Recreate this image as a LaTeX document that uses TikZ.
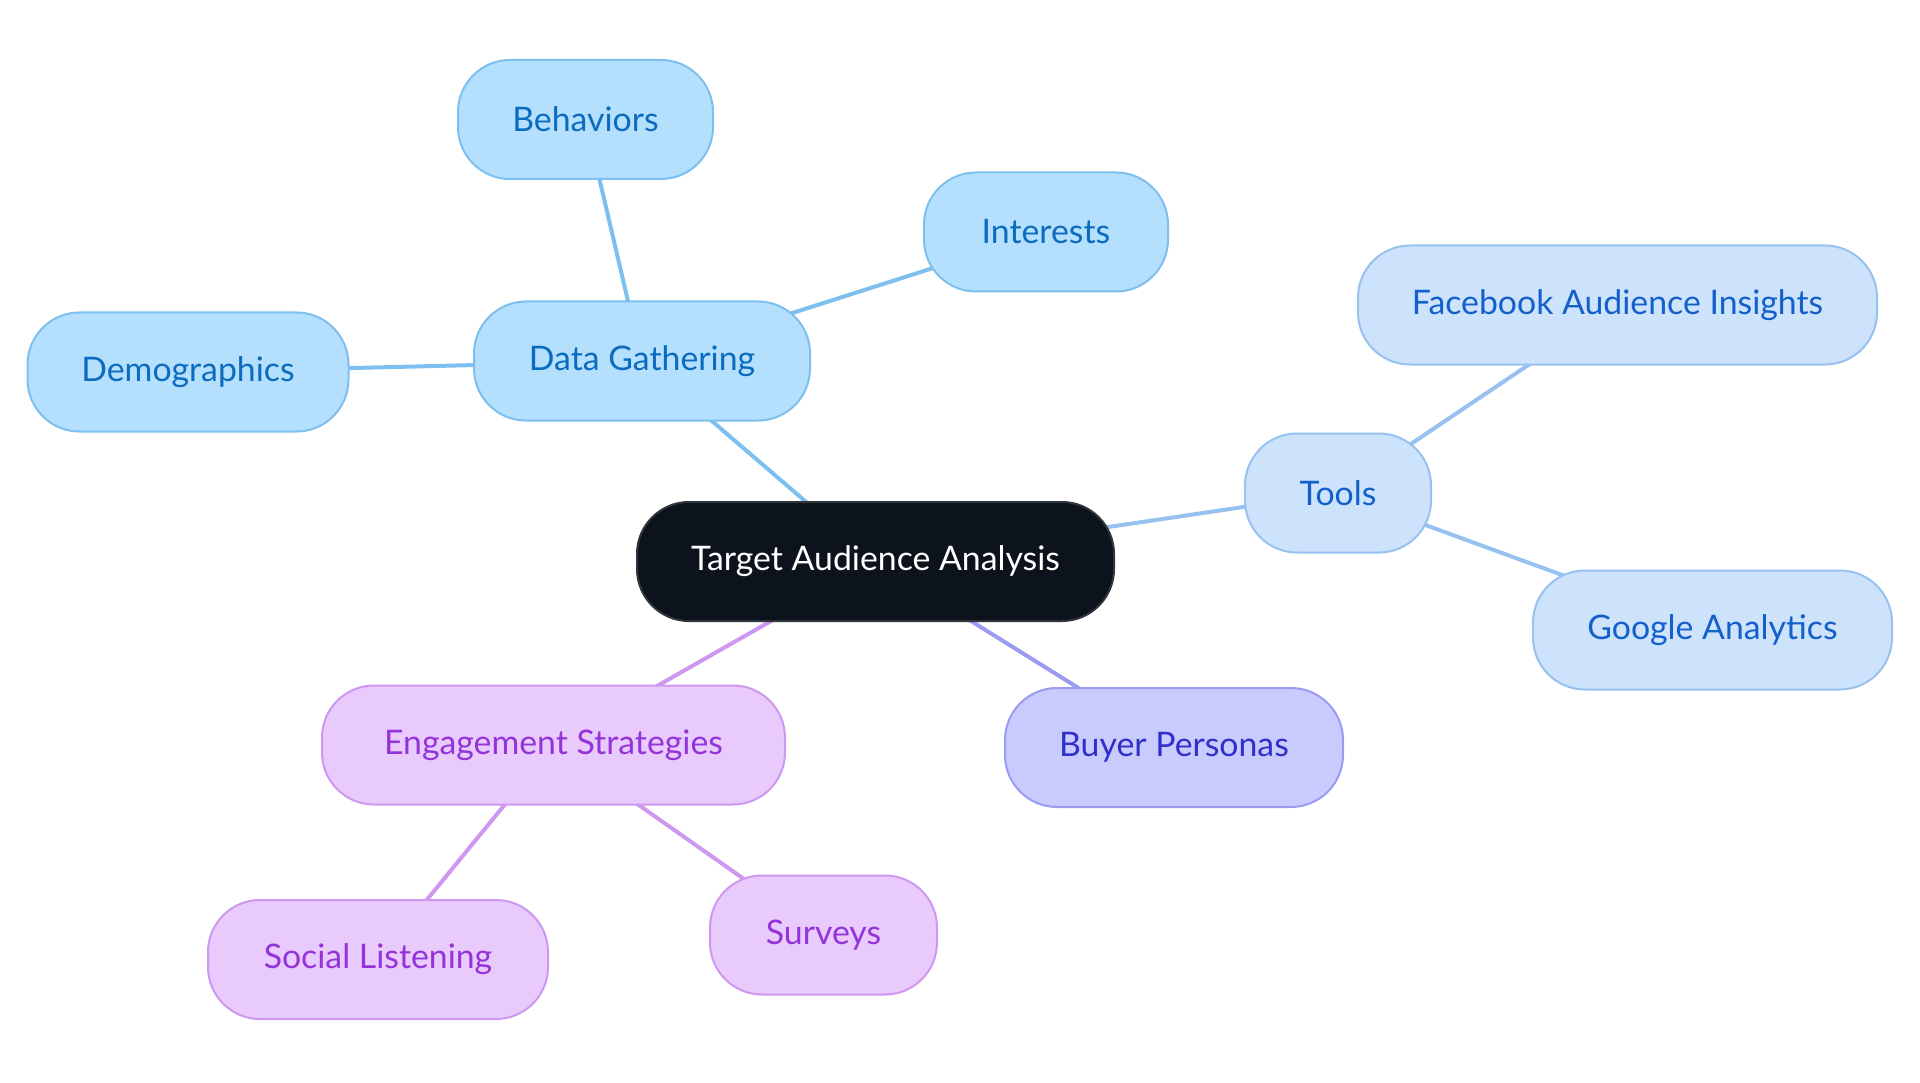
\documentclass[tikz,border=0pt]{standalone}
\usepackage{fontspec}
\setmainfont{Lato}
\usetikzlibrary{backgrounds}
\definecolor{cfill}{HTML}{0D131C}
\definecolor{cdraw}{HTML}{30353C}
\definecolor{bfill}{HTML}{B4DFFD}
\definecolor{bdraw}{HTML}{7DC0EF}
\definecolor{btext}{HTML}{0B6CBF}
\definecolor{tfill}{HTML}{CDE2FB}
\definecolor{tdraw}{HTML}{97C1EF}
\definecolor{ttext}{HTML}{1460CB}
\definecolor{pfill}{HTML}{C9CAFD}
\definecolor{pdraw}{HTML}{9A9CF1}
\definecolor{ptext}{HTML}{3030C8}
\definecolor{efill}{HTML}{E8CAFD}
\definecolor{edraw}{HTML}{CE98F0}
\definecolor{etext}{HTML}{9333D8}
\tikzset{
  pill/.style={rounded corners=52pt, minimum height=119pt, inner sep=0pt, line width=2pt,
    font=\fontsize{33.8}{40}\selectfont, align=center},
  rootnode/.style={pill, fill=cfill, draw=cdraw, text=white},
  bluenode/.style={pill, fill=bfill, draw=bdraw, text=btext},
  toolnode/.style={pill, fill=tfill, draw=tdraw, text=ttext},
  personanode/.style={pill, fill=pfill, draw=pdraw, text=ptext},
  engnode/.style={pill, fill=efill, draw=edraw, text=etext},
  link/.style={line width=4pt}
}
\begin{document}
\begin{tikzpicture}[x=1pt,y=-1pt]
\useasboundingbox (0,0) rectangle (1920,1083);
\node[rootnode, minimum width=477pt] (root) at (875.5,561.5) {Target Audience Analysis};
\node[bluenode, minimum width=336pt] (dg) at (642,361) {Data Gathering};
\node[bluenode, minimum width=255pt] (beh) at (585.5,119.5) {Behaviors};
\node[bluenode, minimum width=244pt] (int) at (1046,232) {Interests};
\node[bluenode, minimum width=321pt] (demo) at (188,372) {Demographics};
\node[toolnode, minimum width=186pt] (tools) at (1338,493) {Tools};
\node[toolnode, minimum width=519pt] (fb) at (1617.5,305) {Facebook Audience Insights};
\node[toolnode, minimum width=359pt] (ga) at (1712.5,630) {Google Analytics};
\node[personanode, minimum width=338pt] (bp) at (1174,747.5) {Buyer Personas};
\node[engnode, minimum width=463pt] (eng) at (553.5,745) {Engagement Strategies};
\node[engnode, minimum width=340pt] (sl) at (378,959.5) {Social Listening};
\node[engnode, minimum width=227pt] (sv) at (823.5,935) {Surveys};
\begin{scope}[on background layer]
\draw[link, draw=bdraw] (root.center) -- (dg.center);
\draw[link, draw=bdraw] (dg.center) -- (beh.center);
\draw[link, draw=bdraw] (dg.center) -- (int.center);
\draw[link, draw=bdraw] (dg.center) -- (demo.center);
\draw[link, draw=tdraw] (root.center) -- (tools.center);
\draw[link, draw=tdraw] (tools.center) -- (fb.center);
\draw[link, draw=tdraw] (tools.center) -- (ga.center);
\draw[link, draw=pdraw] (root.center) -- (bp.center);
\draw[link, draw=edraw] (root.center) -- (eng.center);
\draw[link, draw=edraw] (eng.center) -- (sl.center);
\draw[link, draw=edraw] (eng.center) -- (sv.center);
\end{scope}
\end{tikzpicture}
\end{document}
